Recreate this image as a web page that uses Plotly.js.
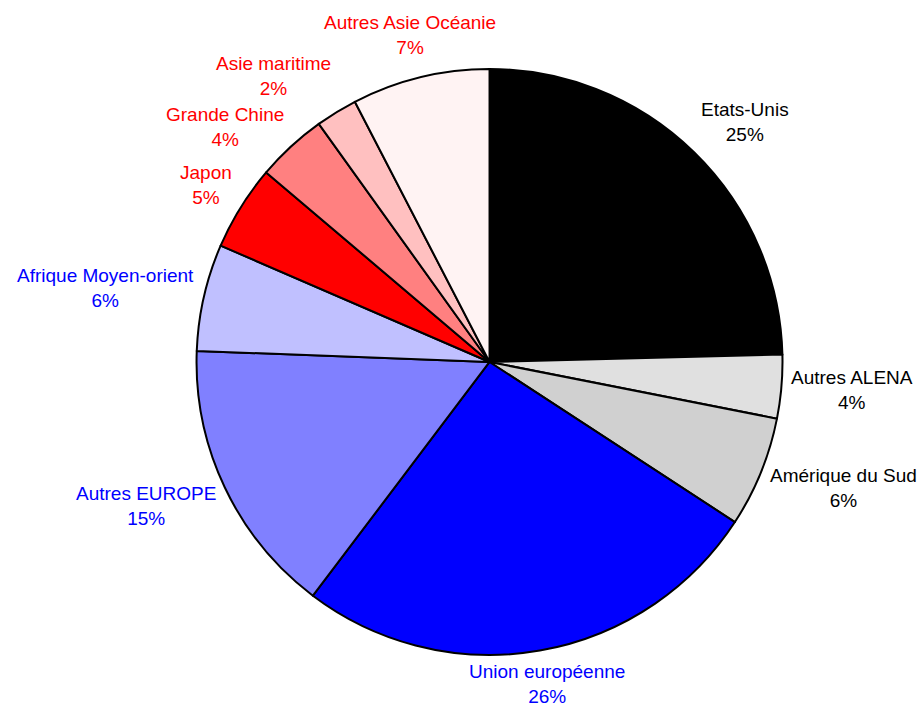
<!DOCTYPE html>
<html><head><meta charset="utf-8">
<script src="https://cdn.plot.ly/plotly-3.0.1.min.js"></script>
<style>body{margin:0;padding:0;background:#fff}</style>
</head><body>
<div id="chart" style="width:918px;height:711px"></div>
<script>
var categories = ["Etats-Unis","Autres ALENA","Amérique du Sud","Union européenne","Autres EUROPE","Afrique Moyen-orient","Japon","Grande Chine","Asie maritime","Autres Asie Océanie"];
var values = [24.6, 3.5, 6.1, 26.1, 15.3, 5.9, 4.7, 3.9, 2.3, 7.6];
var pctLabels = ["25%","4%","6%","26%","15%","6%","5%","4%","2%","7%"];
var sliceColors = ["#000000","#e0e0e0","#d0d0d0","#0000ff","#8080ff","#c0c0ff","#ff0000","#ff8080","#ffc0c0","#fff3f3"];
var textColors = ["#000000","#000000","#000000","#0000ff","#0000ff","#0000ff","#ff0000","#ff0000","#ff0000","#ff0000"];

var W = 918, H = 711;
var dom = {x: [0.2141, 0.8524], y: [0.0788, 0.9030]};
var FONT = "Liberation Sans, Arial, sans-serif";
var FS = 19;

var trace = {
  type: "pie",
  labels: categories,
  values: values,
  textinfo: "none",
  sort: false,
  direction: "clockwise",
  rotation: 0,
  marker: {colors: sliceColors, line: {color: "#000000", width: 2}},
  hoverinfo: "none",
  showlegend: false,
  domain: dom
};

// Label placement derived from each slice's mid-angle, just outside the rim
var cx = W * (dom.x[0] + dom.x[1]) / 2;
var cy = H * (1 - (dom.y[0] + dom.y[1]) / 2);
var r = Math.min(W * (dom.x[1] - dom.x[0]), H * (dom.y[1] - dom.y[0])) / 2;
var RX = r * 1.03, RY = r * 1.145, RC = r * 1.15;
var total = values.reduce(function(a, b){ return a + b; }, 0);
var cum = 0;
var labs = categories.map(function(c, i){
  var mid = (cum + values[i] / 2) / total * 2 * Math.PI;
  cum += values[i];
  var s = Math.sin(mid), co = Math.cos(mid);
  var side = s > 0.3 ? "left" : (s < -0.3 ? "right" : "center");
  var px = cx + (side === "center" ? RC : RX) * s;
  var py = cy - (side === "center" ? RC : RY) * co;
  return {i: i, side: side, px: px, py: py};
});
// keep stacked labels on the same side from colliding
var minGap = 2.6 * FS + 2;
["left", "right"].forEach(function(side){
  var grp = labs.filter(function(l){ return l.side === side; }).sort(function(a, b){ return a.py - b.py; });
  for (var k = 1; k < grp.length; k++) {
    if (grp[k].py - grp[k-1].py < minGap) grp[k].py = grp[k-1].py + minGap;
  }
});
// keep every two-line label inside the page
var halfH = 1.3 * FS + 2;
labs.forEach(function(l){ l.py = Math.max(halfH, Math.min(H - halfH, l.py)); });

var annotations = labs.map(function(l){
  return {
    xref: "paper", yref: "paper",
    x: l.px / W, y: 1 - l.py / H,
    xanchor: l.side,
    yanchor: "middle",
    text: categories[l.i] + "<br>" + pctLabels[l.i],
    showarrow: false,
    align: "center",
    borderpad: 0,
    font: {family: FONT, size: FS, color: textColors[l.i]}
  };
});

var layout = {
  width: W, height: H,
  margin: {l:0, r:0, t:0, b:0},
  paper_bgcolor: "#ffffff",
  showlegend: false,
  font: {family: FONT, size: FS},
  annotations: annotations
};
Plotly.newPlot("chart", [trace], layout, {displayModeBar: false, staticPlot: true});
</script>
</body></html>
